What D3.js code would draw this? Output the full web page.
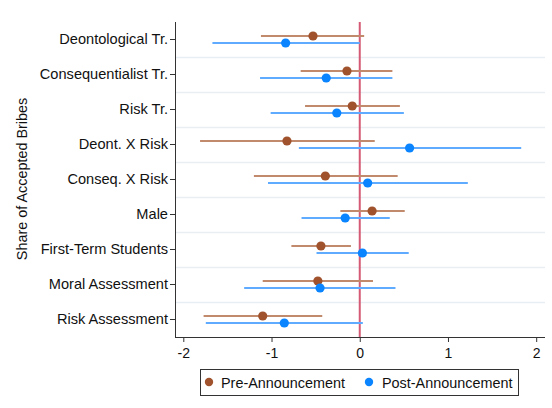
<!DOCTYPE html>
<html><head><meta charset="utf-8">
<script src="https://cdn.jsdelivr.net/npm/d3@7"></script>
<style>body{margin:0;background:#fff;}svg{display:block;font-family:"Liberation Sans",Arial,sans-serif;}</style>
</head><body>
<svg id="c" width="552" height="408"></svg>
<script>
const categories = ["Deontological Tr.","Consequentialist Tr.","Risk Tr.","Deont. X Risk","Conseq. X Risk","Male","First-Term Students","Moral Assessment","Risk Assessment"];
const preEst  = [-0.53,-0.145,-0.085,-0.825,-0.39,0.14,-0.44,-0.475,-1.10];
const preLo   = [-1.12,-0.67,-0.62,-1.81,-1.20,-0.22,-0.775,-1.10,-1.77];
const preHi   = [0.05,0.37,0.455,0.17,0.43,0.51,-0.10,0.15,-0.425];
const postEst = [-0.84,-0.38,-0.26,0.565,0.09,-0.165,0.03,-0.45,-0.855];
const postLo  = [-1.67,-1.13,-1.01,-0.69,-1.04,-0.66,-0.49,-1.31,-1.745];
const postHi  = [0.0,0.37,0.50,1.83,1.225,0.34,0.555,0.405,0.035];
const xTicks = [-2,-1,0,1,2];
const seriesNames = ["Pre-Announcement","Post-Announcement"];

const svg = d3.select("#c");
const L=175, R=545, T=22, B=337;
const x = d3.scaleLinear().domain([-2,2]).range([183.3,536.2]);
const y = d3.scaleBand().domain(categories).range([T,B]);

// gridlines
svg.append("g").selectAll("line").data(categories.slice(1)).join("line")
  .attr("x1",L).attr("x2",R).attr("y1",d=>y(d)+0.5).attr("y2",d=>y(d)+0.5)
  .attr("stroke","#e8eef2").attr("stroke-width",1.5);

// zero line
svg.append("line").attr("x1",x(0)).attr("x2",x(0)).attr("y1",T).attr("y2",B)
  .attr("stroke","#d55a75").attr("stroke-width",2);

const series = [
  {name:seriesNames[0], est:preEst, lo:preLo, hi:preHi, off:-3.5, dot:"#a0522d", line:"#c18a6d"},
  {name:seriesNames[1], est:postEst, lo:postLo, hi:postHi, off:3.5, dot:"#0a84ff", line:"#5eabff"}
];
series.forEach(s=>{
  const g=svg.append("g");
  g.selectAll("line").data(categories).join("line")
    .attr("x1",(d,i)=>x(s.lo[i])).attr("x2",(d,i)=>x(s.hi[i]))
    .attr("y1",d=>y(d)+y.bandwidth()/2+s.off).attr("y2",d=>y(d)+y.bandwidth()/2+s.off)
    .attr("stroke",s.line).attr("stroke-width",1.8);
  g.selectAll("circle").data(categories).join("circle")
    .attr("cx",(d,i)=>x(s.est[i])).attr("cy",d=>y(d)+y.bandwidth()/2+s.off)
    .attr("r",4.6).attr("fill",s.dot);
});

// axes
const xa = svg.append("g").attr("transform",`translate(0,${B})`)
  .call(d3.axisBottom(x).tickValues(xTicks).tickSize(5).tickSizeOuter(0).tickFormat(d3.format("d")));
xa.select(".domain").attr("d",`M${L},0.5H${R}`).attr("stroke","#333");
xa.selectAll(".tick line").attr("stroke","#333");
xa.selectAll(".tick text").attr("font-size",14).attr("fill","#111").attr("dy","0.95em")
  .text(d=>d<0? "-"+Math.abs(d) : d);

const ya = svg.append("g").attr("transform",`translate(${L},0)`)
  .call(d3.axisLeft(y).tickSize(5).tickSizeOuter(0));
ya.select(".domain").attr("d",`M0.5,${T}V${B}`).attr("stroke","#333");
ya.selectAll(".tick line").attr("stroke","#333");
ya.selectAll(".tick text").attr("font-size",14.6).attr("fill","#111").attr("x",-7);

svg.append("text").attr("transform","translate(27,179) rotate(-90)")
  .attr("text-anchor","middle").attr("font-size",14.4).attr("fill","#111")
  .text("Share of Accepted Bribes");

// legend
const lg = svg.append("g");
lg.append("rect").attr("x",200.5).attr("y",369.5).attr("width",318).attr("height",26)
  .attr("fill","#fff").attr("stroke","#333").attr("stroke-width",1);
const lx=[209,369], tx=[221,382];
series.forEach((s,i)=>{
  lg.append("circle").attr("cx",lx[i]).attr("cy",382).attr("r",4.2).attr("fill",s.dot);
  lg.append("text").attr("x",tx[i]).attr("y",387.5).attr("font-size",14.4).attr("fill","#111").text(s.name);
});
</script>
</body></html>
